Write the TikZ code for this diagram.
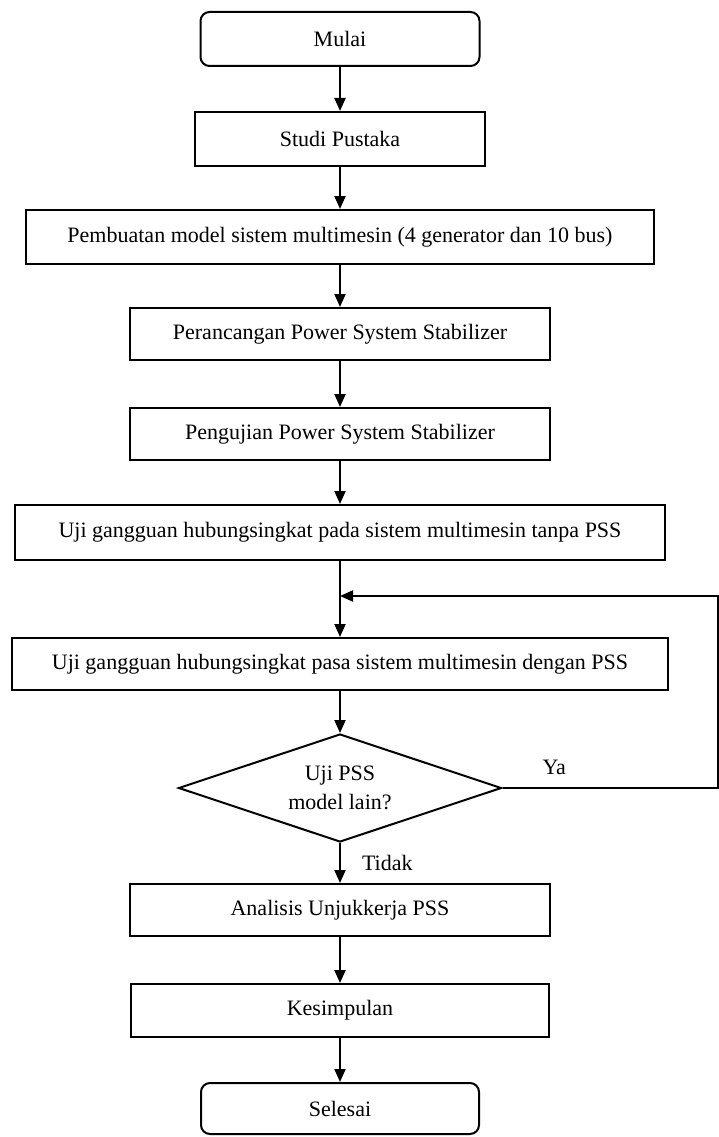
\documentclass[tikz,border=0pt]{standalone}
\usepackage{fontspec}
\setmainfont{Liberation Serif}
\usetikzlibrary{shapes.geometric, arrows.meta, positioning}

\begin{document}
\begin{tikzpicture}[x=1pt, y=1pt,
    font=\fontsize{22pt}{29pt}\selectfont,
    kotak/.style={rectangle, draw, line width=2pt, inner sep=0pt},
    ujung/.style={rectangle, rounded corners=9pt, draw, line width=2pt, inner sep=0pt},
    pilihan/.style={diamond, aspect=3, draw, line width=2pt, inner sep=0pt, align=center},
    panah/.style={-{Triangle[length=13pt, width=11pt]}, line width=2pt},
    ket/.style={inner sep=0pt}]
    \useasboundingbox (0,0) rectangle (719,-1137);

    \node (mulai) [ujung, minimum width=279pt, minimum height=54pt] at (340,-39) {Mulai};
    \node (studi) [kotak, minimum width=290pt, minimum height=54pt, below=44pt of mulai] {Studi Pustaka};
    \node (model) [kotak, minimum width=628pt, minimum height=54pt, below=42pt of studi] {Pembuatan model sistem multimesin (4 generator dan 10 bus)};
    \node (rancang) [kotak, minimum width=420pt, minimum height=52pt, below=42pt of model] {Perancangan Power System Stabilizer};
    \node (uji) [kotak, minimum width=420pt, minimum height=52pt, below=46pt of rancang] {Pengujian Power System Stabilizer};
    \node (tanpa) [kotak, minimum width=650pt, minimum height=55pt, below=43pt of uji] {Uji gangguan hubungsingkat pada sistem multimesin tanpa PSS};
    \node (dengan) [kotak, minimum width=656pt, minimum height=52pt, below=76pt of tanpa] {Uji gangguan hubungsingkat pasa sistem multimesin dengan PSS};
    \node (pilih) [pilihan, minimum width=323pt, minimum height=108pt, below=42pt of dengan] {Uji PSS\\model lain?};
    \node (analisis) [kotak, minimum width=420pt, minimum height=52pt, below=40pt of pilih] {Analisis Unjukkerja PSS};
    \node (simpul) [kotak, minimum width=418pt, minimum height=53pt, below=46pt of analisis] {Kesimpulan};
    \node (selesai) [ujung, minimum width=278pt, minimum height=51pt, below=44pt of simpul] {Selesai};

    \coordinate (tepi) at (718,-596);

    \draw [panah] (mulai) -- (studi);
    \draw [panah] (studi) -- (model);
    \draw [panah] (model) -- (rancang);
    \draw [panah] (rancang) -- (uji);
    \draw [panah] (uji) -- (tanpa);
    \draw [panah] (tanpa) -- (dengan);
    \draw [panah] (dengan) -- (pilih);
    \draw [panah] (pilih) -- node[ket, right=21pt]{Tidak} (analisis);
    \draw [panah] (analisis) -- (simpul);
    \draw [panah] (simpul) -- (selesai);

    % kembali ke pengujian dengan PSS
    \draw [panah] (pilih.east) -- node[ket, above=12pt, pos=0.24]{Ya} (pilih.east -| tepi)
        -- (tepi) -- (tepi -| tanpa.south);
\end{tikzpicture}
\end{document}
